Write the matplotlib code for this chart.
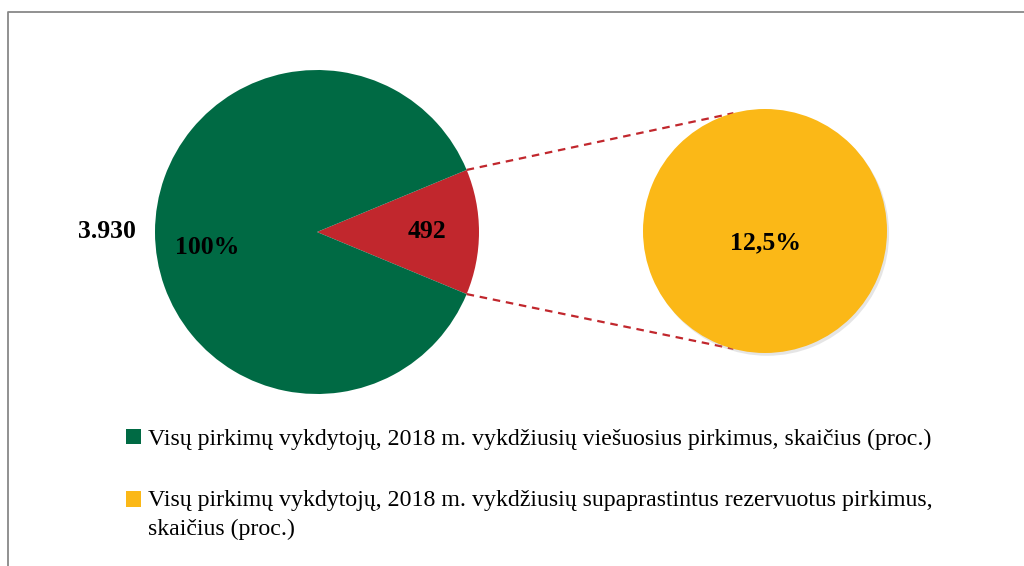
import numpy as np
import matplotlib.pyplot as plt
from matplotlib.patches import Rectangle
from matplotlib.legend_handler import HandlerPatch
import matplotlib.patheffects as pe

# data
total = 3930
reserved = 492
total_label = "3.930"
pct_total = "100%"
pct_reserved = "12,5%"
legend_labels = [
    "Visų pirkimų vykdytojų, 2018 m. vykdžiusių viešuosius pirkimus, skaičius (proc.)",
    "Visų pirkimų vykdytojų, 2018 m. vykdžiusių supaprastintus rezervuotus pirkimus,\nskaičius (proc.)",
]

green = "#006A44"
red = "#C1272D"
yellow = "#FBB817"

plt.rcParams["font.family"] = ["Liberation Serif", "DejaVu Serif"]

W, H = 1024, 566
fig = plt.figure(figsize=(W / 100, H / 100), dpi=100)
ax = fig.add_axes([0, 0, 1, 1])

shadow = [pe.SimplePatchShadow(offset=(1.5, -2), shadow_rgbFace="#999999", alpha=0.25),
          pe.Normal()]

# left pie
c1 = (317, H - 232)
r1 = 162
red_angle = 360 * reserved / total
wedges1, _ = ax.pie([reserved, total - reserved], colors=[red, green],
                    startangle=-red_angle / 2, center=c1, radius=r1, frame=True)

# right pie
c2 = (765, H - 231)
r2 = 122
wedges2, _ = ax.pie([reserved], colors=[yellow], center=c2, radius=r2,
                    frame=True, wedgeprops=dict(path_effects=shadow))
ax.set_xlim(0, W)
ax.set_ylim(0, H)
ax.set_aspect("equal")
ax.axis("off")

# connector lines
for sgn in (1, -1):
    a = np.deg2rad(sgn * red_angle / 2)
    p1 = (c1[0] + r1 * np.cos(a), c1[1] + r1 * np.sin(a))
    b = np.deg2rad(sgn * 105)
    p2 = (c2[0] + r2 * np.cos(b), c2[1] + r2 * np.sin(b))
    ax.plot([p1[0], p2[0]], [p1[1], p2[1]], color=red, lw=1.6,
            ls=(0, (3.4, 2.6)), zorder=0)

# labels
lab = dict(fontsize=18.5, fontweight="bold", ha="center", va="center")
ax.text(107, H - 231, total_label, **lab)
ax.text(207, H - 248, pct_total, **lab)
ax.text(427, H - 231, str(reserved), **lab)
ax.text(765, H - 243, pct_reserved, **lab)

# frame
ax.plot([7.5, 7.5, W], [0, H - 12, H - 12], color="#888888", lw=1.3)

# legend
fs = 17.2
ls = 1.5
shift = 10.9  # points, half the line distance


def first_line_patch(legend, orig_handle, xdescent, ydescent, width, height, fontsize):
    return Rectangle((-xdescent, -ydescent + shift), width, height)


leg = fig.legend([wedges1[1], wedges2[0]], legend_labels, loc="upper left",
                 bbox_to_anchor=(114 / W, 1 - 417 / H), frameon=False,
                 fontsize=fs, handlelength=0.62, handleheight=0.62,
                 handletextpad=0.3, labelspacing=1.65, borderpad=0,
                 handler_map={wedges2[0]: HandlerPatch(patch_func=first_line_patch)})
for t in leg.get_texts():
    t.set_linespacing(ls)
for h in leg.legend_handles:
    h.set_path_effects([])

fig.savefig("out.png", dpi=100)
